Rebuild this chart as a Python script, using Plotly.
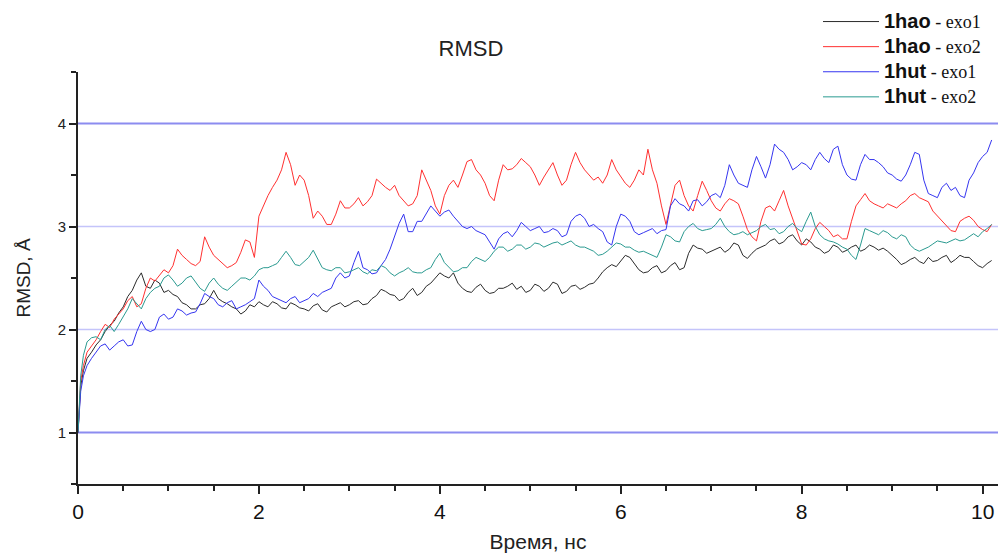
import plotly.graph_objects as go

# ---- data ----
# sampling grid in ns: three early samples, then every 0.05 ns from 0.1 to 10.1
TIME_NS = [0.0, 0.03, 0.06] + [round(0.05 * i, 2) for i in range(2, 203)]

RMSD_1HAO_EXO1 = [1.0, 1.45, 1.6,
    1.72, 1.78, 1.85, 1.9, 1.98, 2.04, 2.08, 2.16, 2.22, 2.32, 2.38, 2.48, 2.55, 2.42, 2.4, 2.48, 2.45, 2.36, 2.38,
    2.34, 2.32, 2.26, 2.24, 2.2, 2.2, 2.24, 2.25, 2.3, 2.38, 2.3, 2.27, 2.25, 2.22, 2.2, 2.15, 2.18, 2.24, 2.22, 2.27,
    2.24, 2.22, 2.27, 2.25, 2.21, 2.2, 2.26, 2.24, 2.21, 2.2, 2.18, 2.23, 2.25, 2.19, 2.17, 2.22, 2.24, 2.26, 2.22, 2.24,
    2.27, 2.28, 2.24, 2.25, 2.3, 2.33, 2.39, 2.37, 2.34, 2.33, 2.28, 2.3, 2.36, 2.4, 2.33, 2.36, 2.42, 2.45, 2.5, 2.55,
    2.52, 2.5, 2.55, 2.45, 2.4, 2.37, 2.36, 2.41, 2.44, 2.38, 2.35, 2.36, 2.4, 2.4, 2.42, 2.45, 2.39, 2.42, 2.36, 2.38,
    2.44, 2.42, 2.37, 2.4, 2.46, 2.44, 2.35, 2.37, 2.42, 2.43, 2.39, 2.41, 2.44, 2.45, 2.5, 2.56, 2.6, 2.63, 2.61, 2.66,
    2.72, 2.7, 2.64, 2.58, 2.55, 2.56, 2.6, 2.62, 2.55, 2.57, 2.62, 2.65, 2.58, 2.6, 2.74, 2.82, 2.79, 2.78, 2.74, 2.76,
    2.78, 2.8, 2.75, 2.78, 2.84, 2.82, 2.72, 2.69, 2.74, 2.78, 2.8, 2.82, 2.86, 2.88, 2.83, 2.85, 2.9, 2.92, 2.86, 2.82,
    2.88, 2.85, 2.8, 2.78, 2.74, 2.76, 2.82, 2.8, 2.75, 2.77, 2.8, 2.82, 2.76, 2.78, 2.82, 2.8, 2.77, 2.79, 2.76, 2.72,
    2.68, 2.63, 2.65, 2.68, 2.7, 2.66, 2.64, 2.7, 2.66, 2.67, 2.7, 2.72, 2.65, 2.68, 2.72, 2.7, 2.7, 2.66, 2.62, 2.6,
    2.64, 2.67]

RMSD_1HAO_EXO2 = [1.0, 1.5, 1.65,
    1.78, 1.84, 1.9, 1.98, 2.05, 2.02, 2.1, 2.15, 2.2, 2.28, 2.32, 2.22, 2.25, 2.4, 2.5, 2.47, 2.52, 2.58, 2.55,
    2.62, 2.78, 2.72, 2.68, 2.64, 2.62, 2.66, 2.9, 2.8, 2.72, 2.68, 2.64, 2.6, 2.62, 2.65, 2.75, 2.87, 2.85, 2.7, 3.1,
    3.2, 3.3, 3.38, 3.45, 3.55, 3.72, 3.6, 3.4, 3.5, 3.45, 3.3, 3.08, 3.15, 3.1, 3.02, 3.02, 3.12, 3.25, 3.18, 3.18,
    3.22, 3.28, 3.2, 3.24, 3.3, 3.46, 3.42, 3.38, 3.35, 3.4, 3.3, 3.25, 3.2, 3.22, 3.3, 3.55, 3.45, 3.35, 3.2, 3.12,
    3.3, 3.4, 3.45, 3.38, 3.5, 3.63, 3.65, 3.55, 3.5, 3.42, 3.3, 3.25, 3.45, 3.6, 3.55, 3.56, 3.6, 3.66, 3.62, 3.58,
    3.5, 3.4, 3.48, 3.55, 3.62, 3.5, 3.4, 3.45, 3.6, 3.72, 3.62, 3.55, 3.5, 3.45, 3.48, 3.42, 3.5, 3.65, 3.55, 3.48,
    3.42, 3.38, 3.45, 3.55, 3.5, 3.75, 3.55, 3.42, 3.2, 3.02, 3.2, 3.4, 3.45, 3.3, 3.2, 3.15, 3.3, 3.44, 3.35, 3.25,
    3.18, 3.15, 3.22, 3.27, 3.25, 3.22, 3.1, 2.97, 2.9, 2.86, 3.05, 3.18, 3.2, 3.15, 3.25, 3.35, 3.2, 3.08, 2.95, 2.83,
    2.82, 2.88, 2.98, 3.04, 3.0, 2.96, 2.9, 2.92, 2.88, 2.88, 3.05, 3.2, 3.26, 3.32, 3.25, 3.22, 3.2, 3.18, 3.22, 3.2,
    3.18, 3.22, 3.25, 3.3, 3.32, 3.28, 3.26, 3.24, 3.15, 3.1, 3.05, 3.0, 2.96, 2.95, 3.05, 3.08, 3.1, 3.06, 3.0, 2.97,
    2.95, 3.02]

RMSD_1HUT_EXO1 = [1.0, 1.4, 1.55,
    1.65, 1.72, 1.78, 1.84, 1.86, 1.8, 1.84, 1.88, 1.9, 1.84, 1.85, 1.98, 2.08, 2.0, 1.98, 2.0, 2.12, 2.15, 2.1,
    2.12, 2.2, 2.18, 2.14, 2.16, 2.17, 2.25, 2.35, 2.32, 2.3, 2.24, 2.22, 2.26, 2.28, 2.2, 2.22, 2.24, 2.27, 2.3, 2.48,
    2.42, 2.38, 2.32, 2.3, 2.28, 2.26, 2.3, 2.32, 2.26, 2.28, 2.3, 2.35, 2.32, 2.36, 2.38, 2.4, 2.5, 2.55, 2.5, 2.52,
    2.65, 2.76, 2.6, 2.58, 2.54, 2.55, 2.62, 2.68, 2.78, 2.9, 3.03, 3.12, 2.95, 2.95, 3.05, 3.05, 3.12, 3.2, 3.15, 3.1,
    3.14, 3.16, 3.1, 3.05, 3.0, 2.98, 3.0, 2.96, 2.94, 2.92, 2.85, 2.78, 2.88, 2.93, 2.95, 2.9, 2.96, 3.04, 3.0, 2.96,
    2.98, 3.0, 2.94, 2.95, 2.98, 2.96, 2.9, 2.92, 3.05, 3.1, 3.12, 3.08, 3.0, 3.02, 2.98, 2.95, 2.85, 2.82, 3.0, 3.12,
    3.1, 3.05, 2.95, 2.92, 2.94, 2.96, 2.98, 2.93, 2.96, 2.97, 3.2, 3.27, 3.22, 3.2, 3.15, 3.25, 3.26, 3.2, 3.24, 3.3,
    3.32, 3.28, 3.4, 3.6, 3.5, 3.42, 3.4, 3.38, 3.55, 3.68, 3.58, 3.47, 3.6, 3.8, 3.75, 3.72, 3.65, 3.55, 3.58, 3.62,
    3.6, 3.55, 3.65, 3.72, 3.66, 3.62, 3.75, 3.78, 3.6, 3.5, 3.46, 3.45, 3.6, 3.7, 3.65, 3.65, 3.62, 3.58, 3.52, 3.5,
    3.46, 3.44, 3.5, 3.6, 3.72, 3.7, 3.45, 3.32, 3.3, 3.28, 3.38, 3.42, 3.35, 3.38, 3.3, 3.28, 3.45, 3.52, 3.62, 3.68,
    3.72, 3.84]

RMSD_1HUT_EXO2 = [1.0, 1.55, 1.75,
    1.88, 1.92, 1.93, 1.9, 2.0, 2.04, 1.98, 2.05, 2.12, 2.2, 2.3, 2.25, 2.2, 2.3, 2.36, 2.4, 2.42, 2.5, 2.53,
    2.48, 2.42, 2.45, 2.5, 2.52, 2.46, 2.4, 2.37, 2.45, 2.5, 2.44, 2.4, 2.38, 2.42, 2.46, 2.5, 2.5, 2.48, 2.52, 2.58,
    2.6, 2.6, 2.62, 2.64, 2.7, 2.76, 2.7, 2.63, 2.62, 2.66, 2.7, 2.77, 2.68, 2.6, 2.58, 2.57, 2.6, 2.6, 2.55, 2.56,
    2.58, 2.6, 2.56, 2.54, 2.58, 2.57, 2.62, 2.6, 2.55, 2.52, 2.55, 2.57, 2.6, 2.56, 2.55, 2.55, 2.58, 2.6, 2.68, 2.74,
    2.65, 2.6, 2.56, 2.57, 2.6, 2.6, 2.66, 2.7, 2.68, 2.66, 2.7, 2.76, 2.8, 2.8, 2.76, 2.78, 2.82, 2.82, 2.78, 2.8,
    2.84, 2.83, 2.8, 2.82, 2.84, 2.85, 2.82, 2.84, 2.86, 2.82, 2.8, 2.8, 2.78, 2.76, 2.72, 2.73, 2.76, 2.8, 2.84, 2.83,
    2.8, 2.8, 2.77, 2.75, 2.76, 2.74, 2.72, 2.7, 2.8, 2.92, 2.9, 2.86, 2.85, 2.95, 3.0, 3.03, 2.98, 2.96, 2.97, 2.98,
    3.02, 3.08, 3.0, 2.95, 2.92, 2.93, 2.95, 2.92, 2.94, 2.96, 3.0, 3.02, 2.97, 2.98, 2.93, 2.95, 3.0, 3.03, 2.98, 2.95,
    3.05, 3.14, 3.0, 2.92, 2.88, 2.86, 2.85, 2.83, 2.8, 2.78, 2.72, 2.68, 2.82, 2.98, 2.96, 2.94, 2.92, 2.96, 2.94, 2.9,
    2.88, 2.92, 2.9, 2.82, 2.78, 2.76, 2.78, 2.8, 2.83, 2.86, 2.85, 2.84, 2.86, 2.88, 2.86, 2.87, 2.9, 2.93, 2.9, 2.95,
    2.98, 3.02]

SERIES_PROTEIN = ["1hao", "1hao", "1hut", "1hut"]
SERIES_LIGAND = ["exo1", "exo2", "exo1", "exo2"]
SERIES_VALUES = [RMSD_1HAO_EXO1, RMSD_1HAO_EXO2, RMSD_1HUT_EXO1, RMSD_1HUT_EXO2]
SERIES_COLORS = ["#2b2b2b", "#ff3030", "#3535f0", "#2a9a90"]

GRID_MAJOR = [1, 4]
GRID_MINOR = [2, 3]

for v in SERIES_VALUES:
    assert len(v) == len(TIME_NS), (len(v), len(TIME_NS))

fig = go.Figure()
for prot, lig, vals, col in zip(SERIES_PROTEIN, SERIES_LIGAND, SERIES_VALUES, SERIES_COLORS):
    name = ('<span style="font-size:20px"><b>%s</b></span>'
            '<span style="font-family:Liberation Serif;font-size:18px"> - %s</span>') % (prot, lig)
    fig.add_trace(go.Scatter(x=TIME_NS, y=vals, mode="lines", name=name,
                             line=dict(color=col, width=1)))

for lv in GRID_MAJOR:
    fig.add_hline(y=lv, line=dict(color="#8c8cf0", width=2), layer="below")
for lv in GRID_MINOR:
    fig.add_hline(y=lv, line=dict(color="#c4c4fa", width=1.5), layer="below")

FONT = "Liberation Sans, Arial, sans-serif"

fig.update_layout(
    width=998, height=553,
    margin=dict(l=78, r=0, t=72, b=69),
    paper_bgcolor="white", plot_bgcolor="white",
    font=dict(family=FONT, color="#111"),
    title=dict(text="RMSD", x=471/998, xanchor="center", xref="container",
               y=1-48/553, yanchor="middle", yref="container",
               font=dict(size=22, color="#222")),
    showlegend=True,
    legend=dict(x=(818-78)/920, xanchor="left", y=1+68/412, yanchor="top",
                bgcolor="rgba(0,0,0,0)", font=dict(size=17, color="#111"),
                itemwidth=56, tracegroupgap=0),
)

fig.update_xaxes(
    range=[0, 10.17], showline=True, linecolor="#222", linewidth=2,
    ticks="outside", ticklen=8, tickwidth=2, tickcolor="#222",
    tick0=0, dtick=2,
    minor=dict(dtick=0.5, ticks="outside", ticklen=5, tickwidth=1.5, tickcolor="#222"),
    showgrid=False, zeroline=False,
    tickfont=dict(size=21, color="#111"),
    title=dict(text="Время, нс", font=dict(size=21, color="#222"), standoff=14),
)
fig.update_yaxes(
    range=[0.5, 4.5], showline=True, linecolor="#222", linewidth=2,
    ticks="outside", ticklen=7, tickwidth=1.5, tickcolor="#222",
    tick0=0, dtick=1,
    minor=dict(dtick=0.5, ticks="outside", ticklen=5, tickwidth=1.5, tickcolor="#222"),
    showgrid=False, zeroline=False,
    tickfont=dict(size=15, color="#222"),
    title=dict(text="RMSD, Å", font=dict(size=19, color="#222"), standoff=22),
)

fig.write_html("out.html")
